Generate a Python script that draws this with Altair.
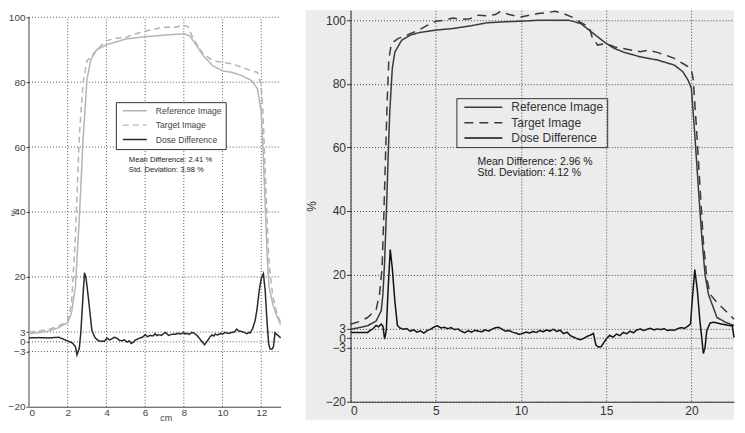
import altair as alt
import pandas as pd

FONT = "Liberation Sans"
SERIES = ["Reference Image", "Target Image", "Dose Difference"]

# ---------------- Left panel (cm) ----------------
L_ref_x = [0, 0.5, 1, 1.5, 2, 2.2, 2.4, 2.6, 2.8, 3.0, 3.2, 3.5, 4, 5, 6, 7, 8, 8.3, 8.6, 9,
           9.5, 10, 10.5, 11, 11.5, 11.8, 12, 12.1, 12.2, 12.3, 12.4, 12.6, 12.8, 13]
L_ref_y = [2.5, 2.8, 3.3, 4.3, 5.9, 9, 17, 38, 63, 81, 87, 90, 91.5, 93.3, 94, 94.5, 94.9, 94.3, 91.8, 88.2,
           85, 83.5, 83, 82, 80.5, 78, 70.7, 58, 43, 27, 17, 11.5, 8, 5.3]
L_tgt_x = [0, 0.5, 1, 1.5, 2, 2.2, 2.4, 2.6, 2.8, 3.0, 3.2, 3.5, 4, 4.5, 5, 5.5, 6, 6.5, 7, 7.5,
           8, 8.2, 8.5, 9, 9.5, 10, 10.5, 11, 11.5, 11.8, 12, 12.1, 12.2, 12.3, 12.4, 12.6, 12.8, 13]
L_tgt_y = [3.0, 3.3, 3.8, 4.8, 6.4, 12, 32.6, 63.5, 80, 86.6, 87.7, 90, 92.8, 93.5, 93.8, 94.9, 95.7, 96.4, 96.9, 96.9,
           97.4, 97.2, 93.3, 88.7, 86.6, 86.1, 85.6, 84.6, 83.5, 83, 79, 68.6, 53, 37.8, 24, 14, 9, 5.9]
L_diff_x = [0.0, 0.5, 1.0, 1.53, 1.75, 1.99, 2.25, 2.4, 2.48, 2.6,
            2.68, 2.74, 2.8, 2.87, 2.95, 3.08, 3.25, 3.42, 3.6, 3.75,
            3.9, 4.03, 4.15, 4.28, 4.4, 4.54, 4.67, 4.8, 4.93, 5.06,
            5.17, 5.28, 5.38, 5.49, 5.62, 5.75, 5.88, 6.0, 6.13, 6.26,
            6.4, 6.52, 6.6, 6.69, 6.85, 7.04, 7.12, 7.21, 7.38, 7.55,
            7.7, 7.85, 7.98, 8.07, 8.16, 8.28, 8.41, 8.55, 8.67, 8.84,
            8.95, 9.07, 9.15, 9.24, 9.35, 9.45, 9.55, 9.62, 9.75, 9.88,
            10.0, 10.13, 10.3, 10.48, 10.6, 10.73, 10.85, 10.99, 11.12, 11.25,
            11.35, 11.42, 11.55, 11.68, 11.78, 11.9, 12.0, 12.11, 12.2, 12.3,
            12.38, 12.45, 12.55, 12.63, 12.71, 12.8, 12.9, 13.0]
L_diff_y = [1.2, 1.3, 1.2, 1.4, 0.9, 0.3, -0.4, -1.5, -4.0, -2.0,
            3.0, 9.0, 15.0, 21.3, 19.5, 13.0, 3.5, 1.2, 0.3, 0.2,
            0.2, 1.2, 0.6, 0.9, 1.4, 1.1, 0.5, 0.3, 0.6, -0.1,
            0.3, -0.5, -0.2, 0.5, 0.9, 1.2, 1.5, 2.2, 1.6, 2.0,
            1.8, 2.5, 1.9, 2.2, 2.0, 2.9, 2.5, 2.0, 2.3, 2.3,
            2.6, 2.4, 2.9, 2.4, 2.6, 2.3, 2.9, 2.6, 2.0, 0.8,
            0.0, -0.9, -0.2, 0.5, 1.5, 2.1, 1.8, 2.4, 2.1, 2.6,
            2.4, 2.9, 2.6, 2.9, 3.0, 3.9, 3.3, 3.2, 2.9, 2.5,
            2.9, 2.7, 4.0, 6.5, 10.0, 16.0, 19.5, 21.0, 16.0, 6.0,
            -0.5, -2.2, -2.3, -1.5, 2.8, 2.3, 1.8, 1.2]
L_xticks = [0, 2, 4, 6, 8, 10, 12]
L_xgrid = [2, 4, 6, 8, 10, 12]
Y_ticks = [-20, -3, 0, 3, 20, 40, 60, 80, 100]
Y_grid = [-3, 0, 3, 20, 40, 60, 80, 100]
L_notes = ["Mean Difference: 2.41 %", "Std. Deviation: 3.98 %"]

# ---------------- Right panel ----------------
R_ref_x = [0, 0.5, 1, 1.5, 1.8, 1.9, 2.0, 2.1, 2.2, 2.3, 2.45, 2.6, 3, 3.5, 4, 5, 6, 7, 8, 9,
           10, 11, 12, 12.8, 13.5, 14, 14.5, 15, 15.5, 16, 17, 18, 19, 19.5, 19.8, 20, 20.2, 20.4, 20.6, 20.8,
           21, 21.5, 22, 22.5]
R_ref_y = [2.8, 3.3, 3.9, 5.4, 8.6, 13.8, 24, 39, 55.6, 71, 84.8, 90, 93.7, 95.3, 96.1, 96.9, 97.4, 98.2, 99.2, 99.5,
           99.7, 100, 100, 100, 99, 96.9, 94.8, 92.7, 91.1, 90, 88.5, 87.5, 85.9, 83.8, 81.2, 78.6, 64, 48, 32.6, 20,
           13.8, 6.5, 5, 4]
R_tgt_x = [0, 0.5, 1, 1.5, 1.7, 1.85, 1.95, 2.05, 2.15, 2.25, 2.4, 2.8, 3.2, 3.5, 4, 4.5, 5, 5.5, 6, 6.5,
           7, 7.5, 8, 8.5, 8.8, 9.3, 10, 10.5, 11, 11.5, 12, 12.5, 13, 13.5, 14, 14.2, 14.5, 15, 15.5, 16,
           16.5, 17, 17.5, 18, 18.5, 19, 19.5, 19.8, 20, 20.1, 20.3, 20.5, 20.7, 20.9, 21.1, 21.5, 22, 22.5]
R_tgt_y = [4.4, 5.2, 6.5, 9, 13.8, 22, 38, 56.6, 74.4, 88, 92.7, 94.3, 95, 95.8, 96.9, 98.4, 99.7, 100, 100.7, 100.3,
           100.5, 101.6, 101.4, 101.8, 102.8, 101.8, 101, 101.6, 102.1, 102.4, 102.8, 102.1, 101, 99.3, 97.9, 94.3, 92.2, 92.7, 91.6, 91.1,
           90.6, 90.1, 90.6, 89.9, 89, 88, 86.4, 85.4, 84.3, 81.7, 66, 48, 30.5, 19, 13.8, 11.2, 8.6, 6]
R_diff_x = [0, 0.5, 1.0, 1.2, 1.3, 1.5, 1.65, 1.8, 1.9, 2.0,
            2.1, 2.2, 2.33, 2.45, 2.6, 2.75, 2.9, 3.1, 3.3, 3.5,
            3.7, 3.9, 4.1, 4.3, 4.5, 4.7, 4.9, 5.1, 5.3, 5.5,
            5.7, 5.9, 6.1, 6.3, 6.5, 6.7, 6.9, 7.1, 7.3, 7.5,
            7.7, 7.9, 8.1, 8.3, 8.5, 8.7, 8.9, 9.1, 9.3, 9.5,
            9.7, 9.9, 10.1, 10.3, 10.5, 10.7, 10.9, 11.1, 11.3, 11.5,
            11.7, 11.9, 12.1, 12.3, 12.5, 12.7, 12.9, 13.1, 13.3, 13.5,
            13.7, 13.9, 14.1, 14.25, 14.4, 14.55, 14.7, 14.85, 15.0, 15.2,
            15.4, 15.6, 15.8, 16.0, 16.2, 16.4, 16.6, 16.8, 17.0, 17.2,
            17.4, 17.6, 17.8, 18.0, 18.2, 18.4, 18.6, 18.8, 19.0, 19.2,
            19.4, 19.6, 19.8, 19.95, 20.05, 20.2, 20.35, 20.5, 20.6, 20.7,
            20.8, 20.9, 21.1, 21.3, 21.5, 21.8, 22.0, 22.2, 22.4, 22.5]
R_diff_y = [1.8, 1.8, 1.8, 2.6, 2.9, 4.0, 3.6, 4.4, 3.8, -0.3,
            2.5, 14.8, 27.9, 22.0, 11.7, 4.0, 3.2, 2.8, 3.0, 2.2,
            2.6, 1.9, 2.3, 1.6, 2.4, 2.8, 3.5, 3.9, 3.2, 3.4,
            3.0, 3.3, 2.7, 2.9, 2.2, 1.7, 2.3, 1.9, 2.5, 2.2,
            2.0, 2.6, 2.2, 2.8, 3.3, 3.4, 2.8, 2.2, 2.4, 1.9,
            1.6, 1.2, 1.5, 1.9, 1.6, 2.1, 1.8, 2.4, 2.0, 2.6,
            2.2, 2.8, 2.1, 2.5, 1.4, 1.9, 0.8, 0.3, -0.2, -0.5,
            0.0, 0.6, 1.0, 1.5, -2.2, -2.8, -2.7, -1.5, -0.3, 0.9,
            0.3, 1.3, 0.8, 1.8, 1.4, 2.2, 1.7, 2.6, 2.9, 2.4,
            2.8, 3.1, 2.6, 2.9, 2.7, 3.0, 2.4, 2.6, 2.5, 3.0,
            3.3, 3.1, 3.8, 4.5, 12.0, 21.6, 15.0, 5.4, 0.5, -4.8,
            -3.0, 2.3, 4.8, 5.0, 4.8, 4.4, 4.2, 4.0, 3.9, 0.2]
R_xticks = [0, 5, 10, 15, 20]
R_notes = ["Mean Difference: 2.96 %", "Std. Deviation: 4.12 %"]


def long_df(parts):
    rows = []
    for name, xs, ys in parts:
        for i, (x, y) in enumerate(zip(xs, ys)):
            rows.append({"x": x, "y": y, "series": name, "i": i})
    return pd.DataFrame(rows)


L_df = long_df([(SERIES[0], L_ref_x, L_ref_y), (SERIES[1], L_tgt_x, L_tgt_y), (SERIES[2], L_diff_x, L_diff_y)])
R_df = long_df([(SERIES[0], R_ref_x, R_ref_y), (SERIES[1], R_tgt_x, R_tgt_y), (SERIES[2], R_diff_x, R_diff_y)])

# ---------------- Left panel ----------------
LW, LH = 252, 397
L_ydom = [-20, 102.15]
xL_scale = alt.Scale(domain=[0, 13], nice=False, zero=False)
yL_scale = alt.Scale(domain=L_ydom, nice=False, zero=False)

xL = alt.X("x:Q", scale=xL_scale,
           axis=alt.Axis(values=L_xticks, title="cm", grid=False, tickSize=0, labelPadding=1,
                         labelFont=FONT, labelFontSize=10, labelColor="#444",
                         titleFont=FONT, titleFontSize=9, titleFontWeight="normal", titleColor="#444",
                         titleX=137, titleY=11, titleBaseline="middle", titleAlign="center",
                         domainColor="#444"))
yL = alt.Y("y:Q", scale=yL_scale,
           axis=alt.Axis(values=Y_ticks, title="%", grid=False, domain=False, tickSize=3, tickColor="#444",
                         labelPadding=1, labelOverlap=False, labelFont=FONT, labelFontSize=10, labelColor="#444",
                         titleFont=FONT, titleFontSize=8.5, titleFontWeight="normal", titleColor="#444",
                         titleAngle=-90, titleX=-19.5, titleY=202, titleBaseline="top", titleAlign="center"))

left_legend = alt.Legend(title=None, orient="none", legendX=87, legendY=92, symbolType="stroke",
                         symbolSize=576, clipHeight=9, symbolOffset=2, labelFont=FONT, labelFontSize=8.6,
                         labelColor="#444", labelOffset=8, strokeColor="#333", fillColor="white",
                         padding=4, rowPadding=4.5)

L_hgrid = pd.DataFrame({"y": Y_grid, "x": [0] * len(Y_grid), "x2": [13] * len(Y_grid)})
L_vgrid = pd.DataFrame({"x": L_xgrid, "y": [-20] * len(L_xgrid), "y2": [100] * len(L_xgrid)})
L_axisline = pd.DataFrame({"x": [0], "y": [-20], "y2": [100]})
L_text = pd.DataFrame({"x": [5.16, 5.16], "y": [56.0, 52.9], "t": L_notes})

l_hgrid = alt.Chart(L_hgrid).mark_rule(color="#555", strokeDash=[1, 2], strokeWidth=1).encode(
    x=xL, x2="x2:Q", y=yL)
l_vgrid = alt.Chart(L_vgrid).mark_rule(color="#555", strokeDash=[1, 2], strokeWidth=1).encode(
    x=xL, y=yL, y2="y2:Q")
l_axis = alt.Chart(L_axisline).mark_rule(color="#444", strokeWidth=1).encode(x=xL, y=yL, y2="y2:Q")
l_lines = alt.Chart(L_df).mark_line(interpolate="linear").encode(
    x=xL, y=yL, order="i:Q",
    color=alt.Color("series:N", scale=alt.Scale(domain=SERIES, range=["#b5b5b5", "#b5b5b5", "#2a2a2a"]),
                    legend=left_legend),
    strokeDash=alt.StrokeDash("series:N", scale=alt.Scale(domain=SERIES, range=[[1, 0], [6, 4], [1, 0]]),
                              legend=left_legend),
    strokeWidth=alt.StrokeWidth("series:N", scale=alt.Scale(domain=SERIES, range=[1.5, 1.5, 1.0]),
                                legend=left_legend),
)
l_text = alt.Chart(L_text).mark_text(align="left", baseline="middle", font=FONT, fontSize=7.6,
                                     color="#222").encode(x=xL, y=yL, text="t:N")

left = alt.layer(l_hgrid, l_vgrid, l_axis, l_lines, l_text).properties(width=LW, height=LH)

# ---------------- Right panel ----------------
RW, RH = 384, 392
R_ydom = [-20, 103.14]
xR_scale = alt.Scale(domain=[0, 22.5], nice=False, zero=False)
yR_scale = alt.Scale(domain=R_ydom, nice=False, zero=False)
xR = alt.X("x:Q", scale=xR_scale,
           axis=alt.Axis(values=R_xticks, title=None, grid=True, gridDash=[1, 2], gridColor="#444",
                         gridOpacity=1, tickSize=0, labelPadding=4, labelFont=FONT, labelFontSize=12,
                         labelColor="#333", domainColor="#333", zindex=1))
yR = alt.Y("y:Q", scale=yR_scale,
           axis=alt.Axis(values=Y_ticks, title="%", grid=True, gridDash=[1, 2], gridColor="#444",
                         gridOpacity=1, tickSize=4, tickColor="#333", labelPadding=1, labelOverlap=False,
                         labelFont=FONT, labelFontSize=12, labelColor="#333", domainColor="#333",
                         titleFont=FONT, titleFontSize=12, titleFontWeight="normal", titleColor="#333",
                         titlePadding=7, zindex=1))

right_legend = alt.Legend(title=None, orient="none", legendX=106, legendY=88, symbolType="stroke",
                          symbolSize=1444, clipHeight=12, symbolOffset=4, labelFont=FONT, labelFontSize=12,
                          labelColor="#333", labelOffset=8, strokeColor="#333", fillColor="#ececec",
                          padding=3, rowPadding=3.5)

bg = pd.DataFrame({"k": [0]})
r_bg = alt.Chart(bg).mark_rect(color="#ececec").encode(
    x=alt.value(-45), x2=alt.value(384), y=alt.value(0), y2=alt.value(410))
R_text = pd.DataFrame({"x": [7.45, 7.45], "y": [55.5, 51.8], "t": R_notes})
r_lines = alt.Chart(R_df).mark_line(interpolate="linear").encode(
    x=xR, y=yR, order="i:Q",
    color=alt.Color("series:N", scale=alt.Scale(domain=SERIES, range=["#3a3a3a", "#3a3a3a", "#111111"]),
                    legend=right_legend),
    strokeDash=alt.StrokeDash("series:N", scale=alt.Scale(domain=SERIES, range=[[1, 0], [9, 6], [1, 0]]),
                              legend=right_legend),
    strokeWidth=alt.StrokeWidth("series:N", scale=alt.Scale(domain=SERIES, range=[1.5, 1.5, 1.0]),
                                legend=right_legend),
)
r_text = alt.Chart(R_text).mark_text(align="left", baseline="middle", font=FONT, fontSize=10.5,
                                     color="#222").encode(x=xR, y=yR, text="t:N")

right = alt.layer(r_bg, r_lines, r_text).properties(width=RW, height=RH)

chart = alt.hconcat(left, right, spacing=70, bounds="flush").resolve_scale(
    color="independent", strokeDash="independent", strokeWidth="independent"
).resolve_legend(
    color="independent", strokeDash="independent", strokeWidth="independent"
).properties(
    padding={"left": 0, "top": 0, "right": 0, "bottom": 0}
).configure_view(stroke=None)

chart.save("out.html", embed_options={"renderer": "svg", "actions": False})
